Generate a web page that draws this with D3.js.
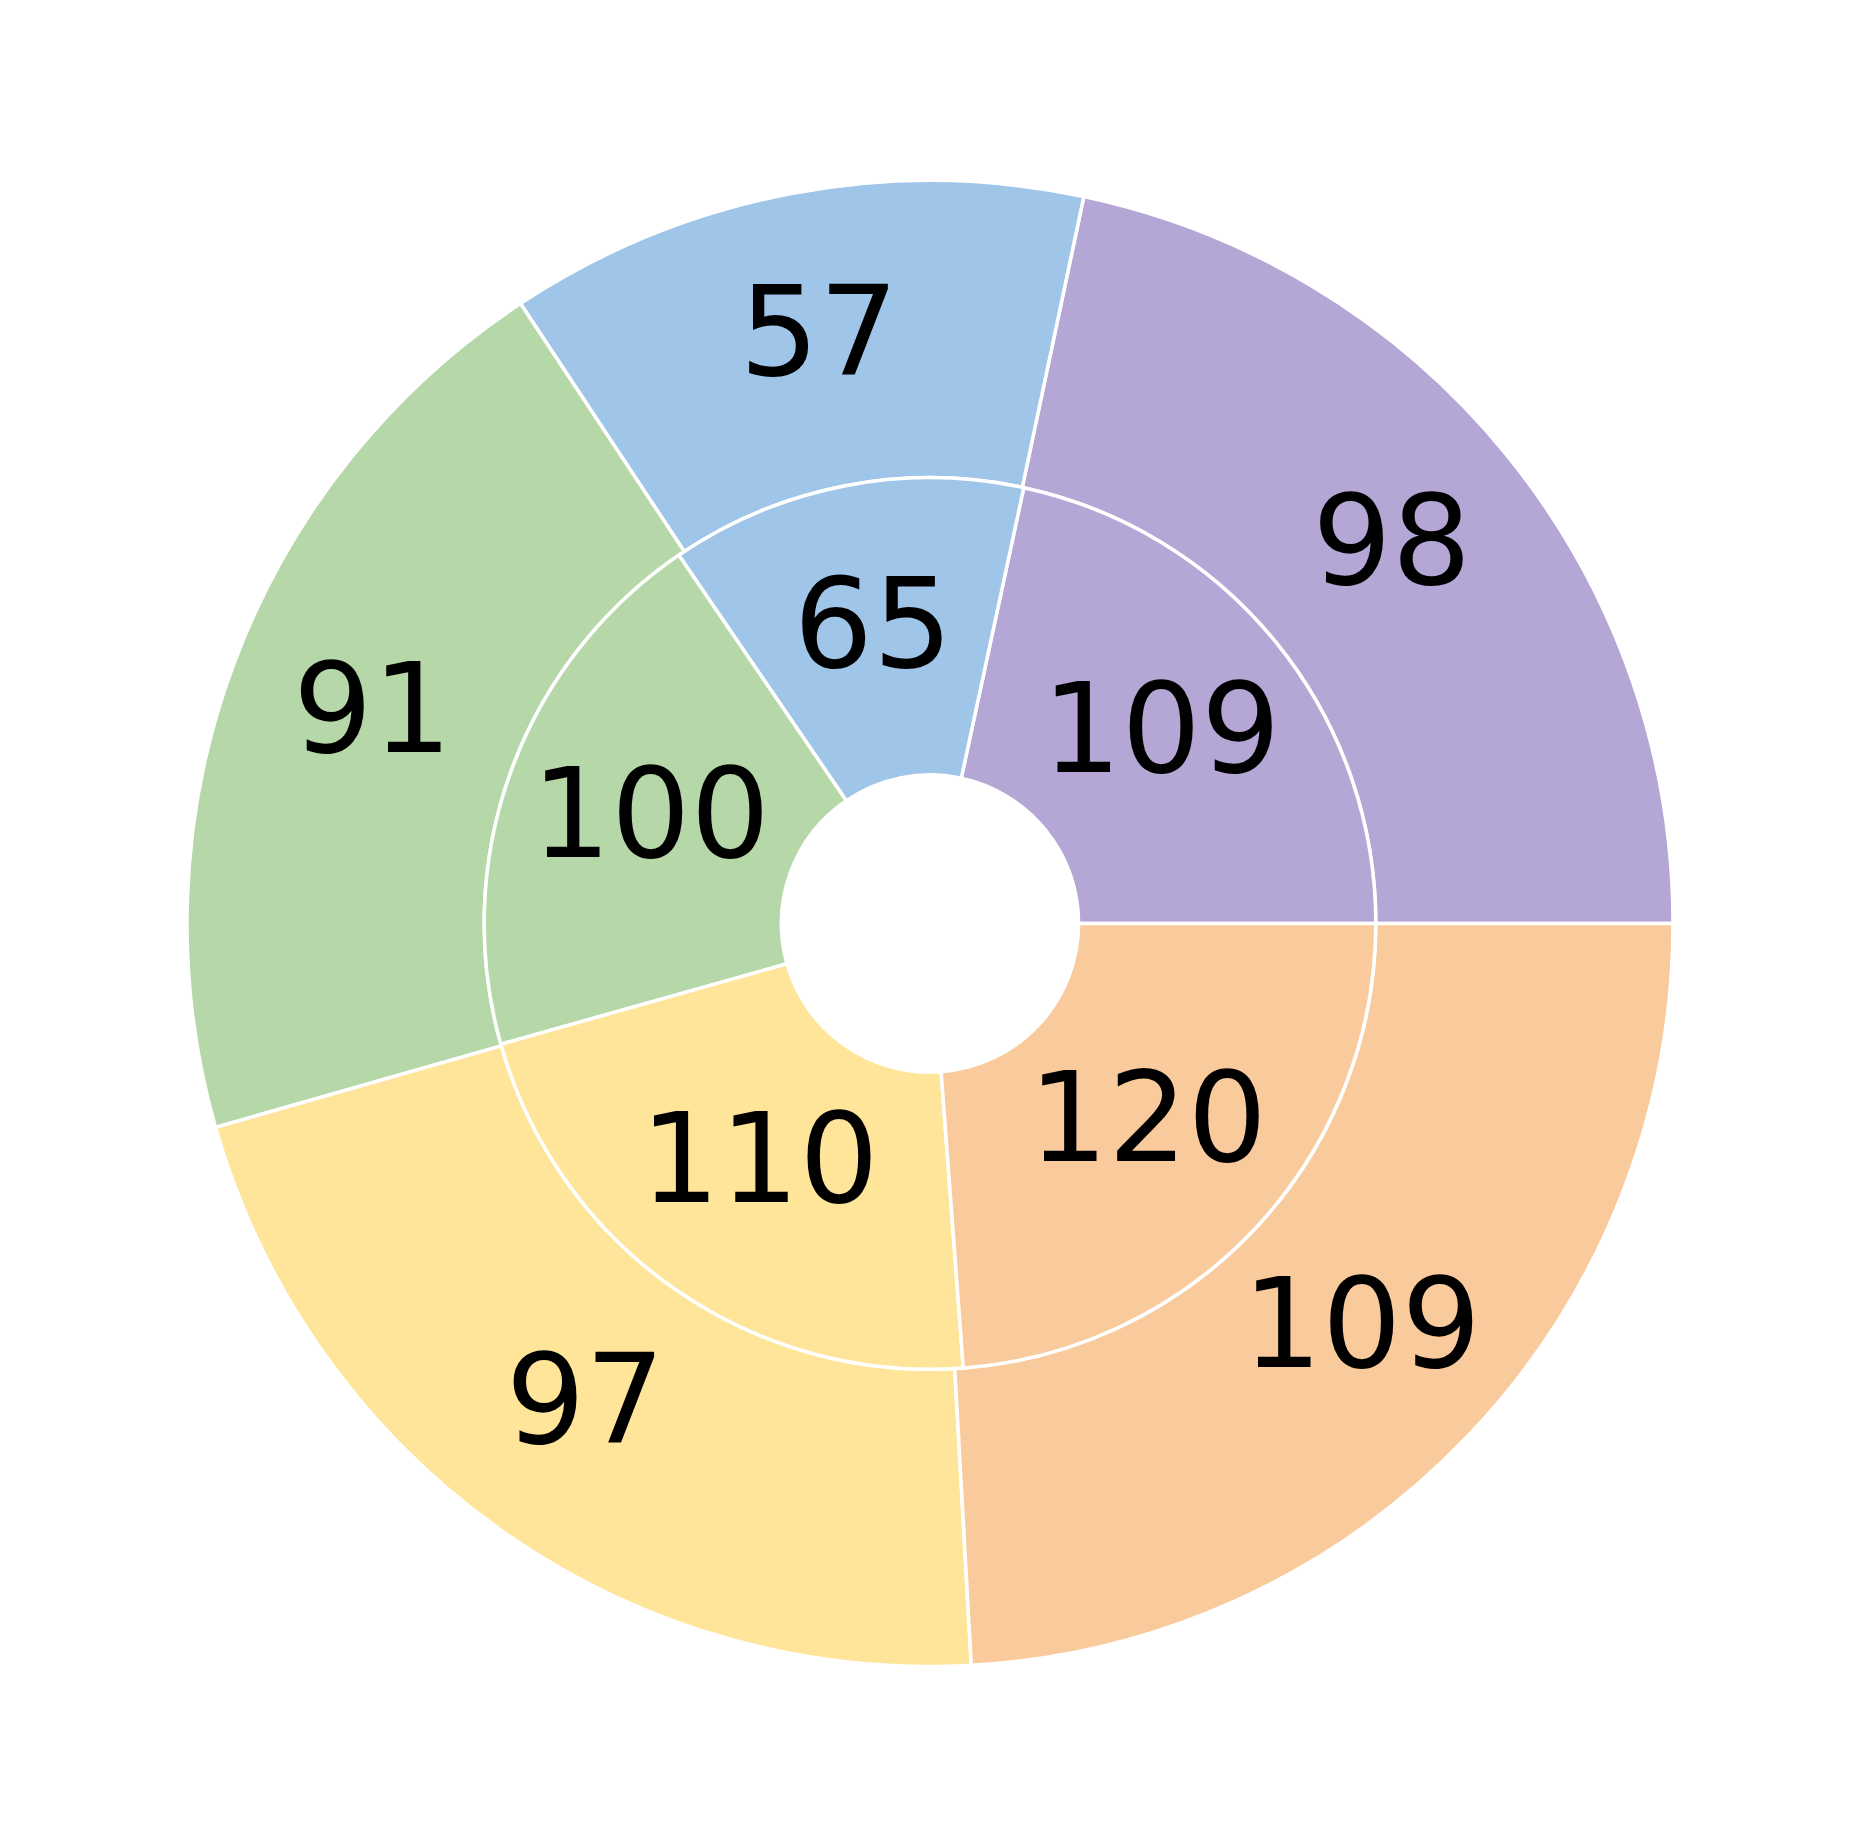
<!DOCTYPE html>
<html><head><meta charset="utf-8">
<script src="https://cdn.jsdelivr.net/npm/d3@7"></script>
<style>html,body{margin:0;padding:0;background:#fff;}</style>
</head><body>
<svg id="c" width="1860" height="1848"></svg>
<script>
const categories = ["A","B","C","D","E"];
const innerValues = [109, 65, 100, 110, 120];
const outerValues = [98, 57, 91, 97, 109];
const colors = ["#b4a7d6", "#9fc5e8", "#b6d7a8", "#ffe599", "#f9cb9c"];

const W = 1860, H = 1848;
const cx = 930, cy = 923.5, R = 743;
const svg = d3.select("#c");
const g = svg.append("g").attr("transform", `translate(${cx},${cy})`);

const pie = d3.pie().sort(null).startAngle(Math.PI/2).endAngle(Math.PI/2 - 2*Math.PI);
const color = d3.scaleOrdinal().domain(categories).range(colors);

const rings = [
  {values: outerValues, inner: 0.6*R, outer: R},
  {values: innerValues, inner: 0.2*R, outer: 0.6*R}
];

rings.forEach(ring => {
  const arc = d3.arc().innerRadius(ring.inner).outerRadius(ring.outer);
  const arcs = pie(ring.values).map((d,i)=>Object.assign(d,{cat:categories[i]}));
  g.selectAll(null).data(arcs).enter().append("path")
    .attr("d", arc)
    .attr("fill", d=>color(d.cat))
    .attr("stroke", "#fff")
    .attr("stroke-width", 3.5)
    .attr("stroke-linejoin", "round");
  g.selectAll(null).data(arcs).enter().append("text")
    .attr("x", d=>arc.centroid(d)[0])
    .attr("y", d=>arc.centroid(d)[1] + 35)
    .attr("text-anchor", "middle")
    .attr("font-family", "DejaVu Sans")
    .attr("font-size", 125)
    .attr("fill", "#000")
    .text(d=>d.data);
});
</script>
</body></html>
